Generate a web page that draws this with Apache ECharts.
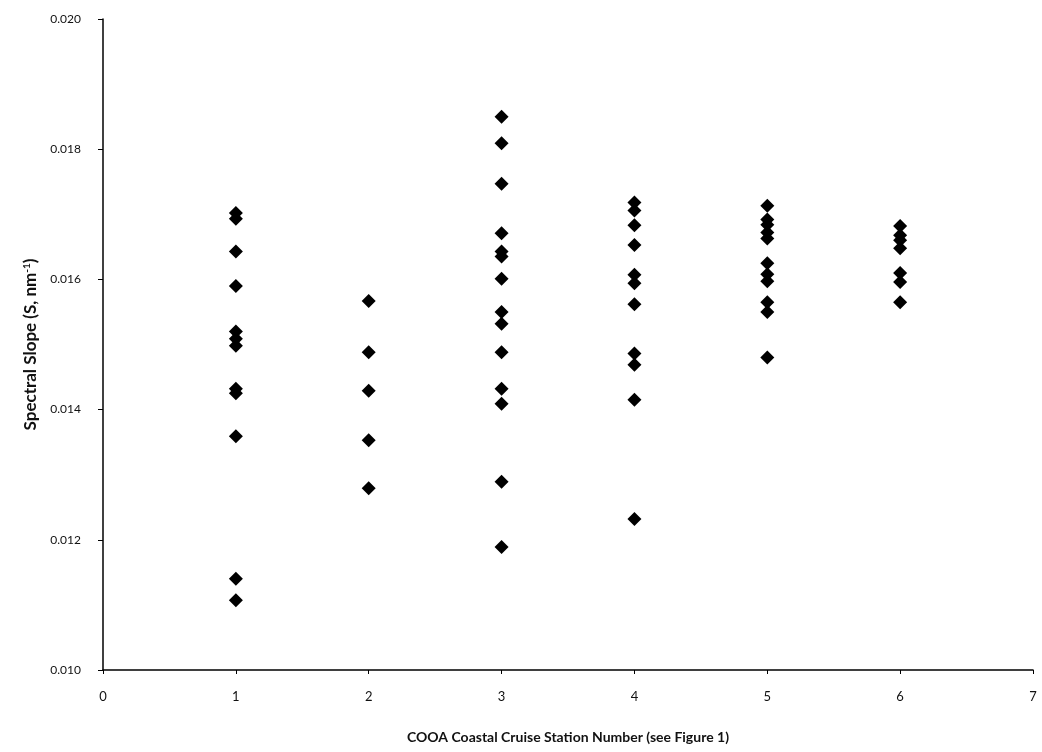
<!DOCTYPE html>
<html>
<head>
<meta charset="utf-8">
<script src="https://cdn.jsdelivr.net/npm/echarts@6/dist/echarts.min.js"></script>
<style>html,body{margin:0;padding:0;background:#fff}#c{width:1042px;height:752px}</style>
</head>
<body>
<div id="c"></div>
<script>
const stations = [1, 2, 3, 4, 5, 6];
const station1 = [0.01702, 0.01693, 0.01643, 0.01590, 0.01520, 0.01509, 0.01498, 0.01432, 0.01425, 0.01359, 0.01140, 0.01107];
const station2 = [0.01567, 0.01488, 0.01429, 0.01353, 0.01279];
const station3 = [0.01850, 0.01809, 0.01747, 0.01671, 0.01643, 0.01635, 0.01601, 0.01550, 0.01532, 0.01488, 0.01432, 0.01409, 0.01289, 0.01189];
const station4 = [0.01718, 0.01706, 0.01683, 0.01653, 0.01607, 0.01594, 0.01562, 0.01486, 0.01469, 0.01415, 0.01232];
const station5 = [0.01713, 0.01692, 0.01684, 0.01672, 0.01663, 0.01625, 0.01608, 0.01597, 0.01565, 0.01550, 0.01480];
const station6 = [0.01682, 0.01668, 0.01660, 0.01648, 0.01610, 0.01596, 0.01565];
const xTitle = 'COOA Coastal Cruise Station Number (see Figure 1)';
const yTitle = 'Spectral Slope (S, nm';

const groups = [station1, station2, station3, station4, station5, station6];
const points = [];
groups.forEach((g, i) => g.forEach(v => points.push([stations[i], v])));

const chart = echarts.init(document.getElementById('c'), null, {renderer: 'canvas'});
const font = 'Lato, "Open Sans", sans-serif';
chart.setOption({
  animation: false,
  backgroundColor: '#ffffff',
  grid: {left: 103, right: 9, top: 19, bottom: 82},
  xAxis: {
    type: 'value', min: 0, max: 7, interval: 1,
    name: xTitle, nameLocation: 'middle', nameGap: 60,
    nameTextStyle: {fontFamily: font, fontWeight: 'bold', fontSize: 14, color: '#111'},
    axisLine: {lineStyle: {color: '#000', width: 1.5}},
    axisTick: {show: true, length: 4, lineStyle: {color: '#000'}},
    axisLabel: {fontFamily: font, fontSize: 13, color: '#111', margin: 20},
    splitLine: {show: false}
  },
  yAxis: {
    type: 'value', min: 0.010, max: 0.020, interval: 0.002,
    name: '{a|' + yTitle + '}{s|-1}{a|)}', nameLocation: 'middle', nameGap: 62, nameRotate: 90,
    nameTextStyle: {
      rich: {
        a: {fontFamily: font, fontWeight: 'bold', fontSize: 17, color: '#111'},
        s: {fontFamily: font, fontWeight: 'bold', fontSize: 10, color: '#111', verticalAlign: 'top', padding: [0, 0, 8, 0]}
      }
    },
    axisLine: {show: true, lineStyle: {color: '#000', width: 1.5}},
    axisTick: {show: true, length: 5, lineStyle: {color: '#000'}},
    axisLabel: {fontFamily: font, fontSize: 12, color: '#111', margin: 22, formatter: v => v.toFixed(3)},
    splitLine: {show: false}
  },
  series: [{
    type: 'scatter',
    data: points,
    symbol: 'diamond',
    symbolSize: 14,
    itemStyle: {color: '#000', opacity: 1}
  }]
});
</script>
</body>
</html>
